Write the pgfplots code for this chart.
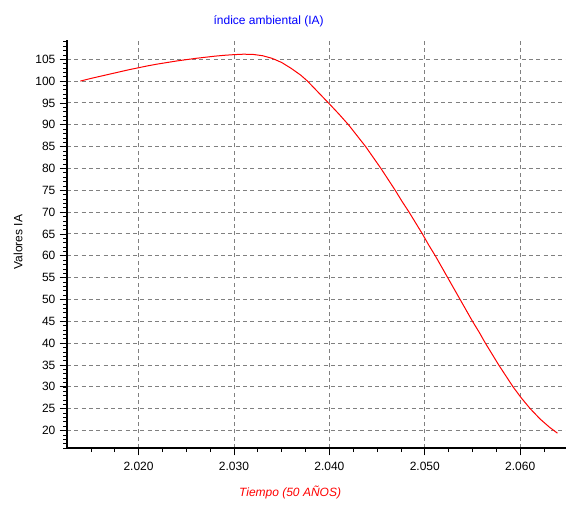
\documentclass[border=0pt]{standalone}
\usepackage{pgfplots}
\pgfplotsset{compat=1.18}
\usepackage{fontspec}
\setmainfont{Liberation Sans}
\definecolor{gridgray}{RGB}{128,128,128}
\begin{document}
\begin{tikzpicture}
\fontsize{9pt}{11pt}\selectfont
\useasboundingbox (-50.25pt,-42pt) rectangle (374.25pt,336pt);
\begin{axis}[
  at={(0,0)}, anchor=south west,
  scale only axis, width=374.25pt, height=306pt,
  xmin=2012.5, xmax=2064.8, ymin=16, ymax=109.4,
  axis x line*=bottom, axis y line*=left,
  axis line style={line width=0.9pt, -},
  xtick={2020,2030,2040,2050,2060},
  minor xtick={2015,2017.5,2022.5,2025,2027.5,2032.5,2035,2037.5,2042.5,2045,2047.5,2052.5,2055,2057.5,2062.5},
  ytick={20,25,...,105},
  minor ytick={16,17,...,109},
  tick align=outside,
  major tick length=5.5pt, minor tick length=3pt,
  every tick/.style={black, line width=0.6pt},
  every minor tick/.style={black, line width=0.5pt},
  xmajorgrids, ymajorgrids,
  xminorgrids=false, yminorgrids=false,
  major grid style={gridgray, line width=0.7pt, dash pattern=on 3pt off 2.5pt},
  /pgf/number format/.cd, 1000 sep={.}, assume math mode=true,
  /pgfplots/.cd,
  ticklabel style={font=\fontsize{9pt}{11pt}\selectfont, black},
  xticklabel style={yshift=-2pt},
  title={índice ambiental (IA)},
  title style={at={(0.404,1.025)}, anchor=center, text=blue, font=\fontsize{9pt}{11pt}\selectfont},
  xlabel={\itshape Tiempo (50 AÑOS)},
  xlabel style={at={(axis description cs:0.447,-0.108)}, anchor=center, text=red, font=\fontsize{9pt}{11pt}\selectfont},
  ylabel={Valores IA},
  ylabel style={at={(axis description cs:-0.098,0.505)}, anchor=center, rotate=0, font=\fontsize{9pt}{11pt}\selectfont},
  clip=false,
]
\addplot[red, line width=0.75pt, line join=round] coordinates {
(2013.9,100.0) (2015,100.6) (2016,101.1) (2017,101.6) (2018,102.1) (2019,102.6)
(2020,103.05) (2021,103.5) (2022,103.9) (2023,104.25) (2024,104.6) (2025,104.9)
(2026,105.2) (2027,105.45) (2028,105.7) (2029,105.9) (2030,106.05) (2031,106.15)
(2032,106.1) (2033,105.8) (2034,105.2) (2035,104.25) (2036,102.9) (2037,101.35)
(2037.7,100.0) (2038.8,97.5) (2039.9,95.0) (2041,92.45) (2042.0,90.0)
(2042.9,87.5) (2043.8,85.0) (2044.6,82.5) (2045.4,80.0) (2046.15,77.5)
(2046.9,75.0) (2047.6,72.5) (2048.35,70.0) (2049.05,67.5) (2049.75,65.0)
(2050.4,62.5) (2051.1,60.0) (2051.75,57.5) (2052.4,55.0) (2053.05,52.5)
(2053.7,50.0) (2054.35,47.5) (2055.0,45.0) (2055.7,42.5) (2056.35,40.0)
(2057.05,37.5) (2057.75,35.0) (2058.5,32.5) (2059.25,30.0) (2060.1,27.5)
(2061.05,25.0) (2062.1,22.6) (2063.1,20.7) (2063.9,19.4)
};
\end{axis}
\end{tikzpicture}
\end{document}
